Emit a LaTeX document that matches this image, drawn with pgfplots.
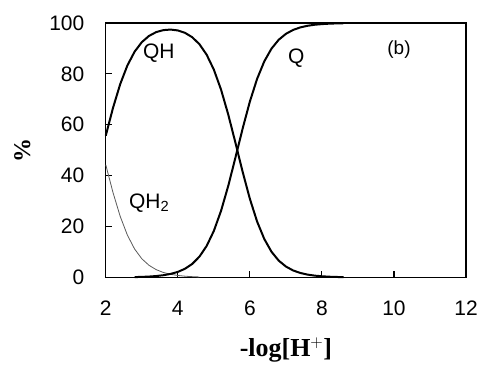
\documentclass[border=0pt]{standalone}
\usepackage{fontspec}
\setmainfont{Liberation Sans}
\newfontfamily\serifb{Liberation Serif}
\usepackage{pgfplots}
\pgfplotsset{compat=1.18}
\begin{document}
\begin{tikzpicture}
\begin{axis}[
  scale only axis, width=361pt, height=255pt,
  xmin=2, xmax=12, ymin=0, ymax=100,
  xtick={2,4,...,12}, ytick={0,20,...,100},
  tick pos=left, tick align=inside,
  major tick length=6pt,
  axis line style={line width=1.3pt},
  every tick/.style={line width=1.1pt, black},
  tick label style={font=\fontsize{21}{23}\selectfont},
  /pgf/number format/assume math mode=true,
  xticklabel style={yshift=-20pt},
  yticklabel style={xshift=-18pt},
  xlabel={\serifb\bfseries\fontsize{26}{28}\selectfont -log[H$^{\mathbf{+}}$]},
  ylabel={\serifb\bfseries\fontsize{24}{26}\selectfont \%},
  xlabel style={yshift=-15pt},
  ylabel style={yshift=12pt},
  clip=false,
]
\addplot[line width=0.8pt, color=black!65] coordinates {
(2.0,44.26)(2.2,33.38)(2.4,24.01)(2.6,16.62)(2.8,11.17)(3.0,7.34)(3.2,4.76)(3.4,3.05)(3.6,1.94)(3.8,1.23)(4.0,0.77)(4.2,0.48)(4.4,0.30)(4.6,0.18)
};
\addplot[line width=2pt, black] coordinates {
(2.0,55.72)(2.2,66.60)(2.4,75.94)(2.6,83.30)(2.8,88.71)(3.0,92.45)(3.2,94.91)(3.4,96.41)(3.6,97.19)(3.8,97.40)(4.0,97.06)(4.2,96.11)(4.4,94.39)(4.6,91.65)(4.8,87.53)(5.0,81.66)(5.2,73.79)(5.4,63.99)(5.6,52.87)(5.8,41.45)(6.0,30.88)(6.2,21.99)(6.4,15.10)(6.6,10.09)(6.8,6.61)(7.0,4.28)(7.2,2.74)(7.4,1.75)(7.6,1.11)(7.8,0.70)(8.0,0.45)(8.2,0.28)(8.4,0.18)(8.6,0.11)
};
\addplot[line width=2pt, black] coordinates {
(2.8,0.13)(3.0,0.21)(3.2,0.34)(3.4,0.54)(3.6,0.87)(3.8,1.38)(4.0,2.17)(4.2,3.41)(4.4,5.31)(4.6,8.17)(4.8,12.36)(5.0,18.28)(5.2,26.18)(5.4,35.99)(5.6,47.12)(5.8,58.55)(6.0,69.12)(6.2,78.01)(6.4,84.90)(6.6,89.91)(6.8,93.39)(7.0,95.72)(7.2,97.26)(7.4,98.25)(7.6,98.89)(7.8,99.30)(8.0,99.55)(8.2,99.72)(8.4,99.82)(8.6,99.89)
};
\node[font=\fontsize{21}{23}\selectfont] at (axis cs:3.47,88) {QH};
\node[font=\fontsize{21}{23}\selectfont] at (axis cs:7.29,86) {Q};
\node[font=\fontsize{19}{21}\selectfont] at (axis cs:10.14,89.4) {(b)};
\node[font=\fontsize{21}{23}\selectfont, anchor=west] at (axis cs:2.55,29.3) {QH$_{\mathrm{2}}$};
\end{axis}
\path (-106pt,-87pt) rectangle (375pt,278pt);
\end{tikzpicture}
\end{document}
